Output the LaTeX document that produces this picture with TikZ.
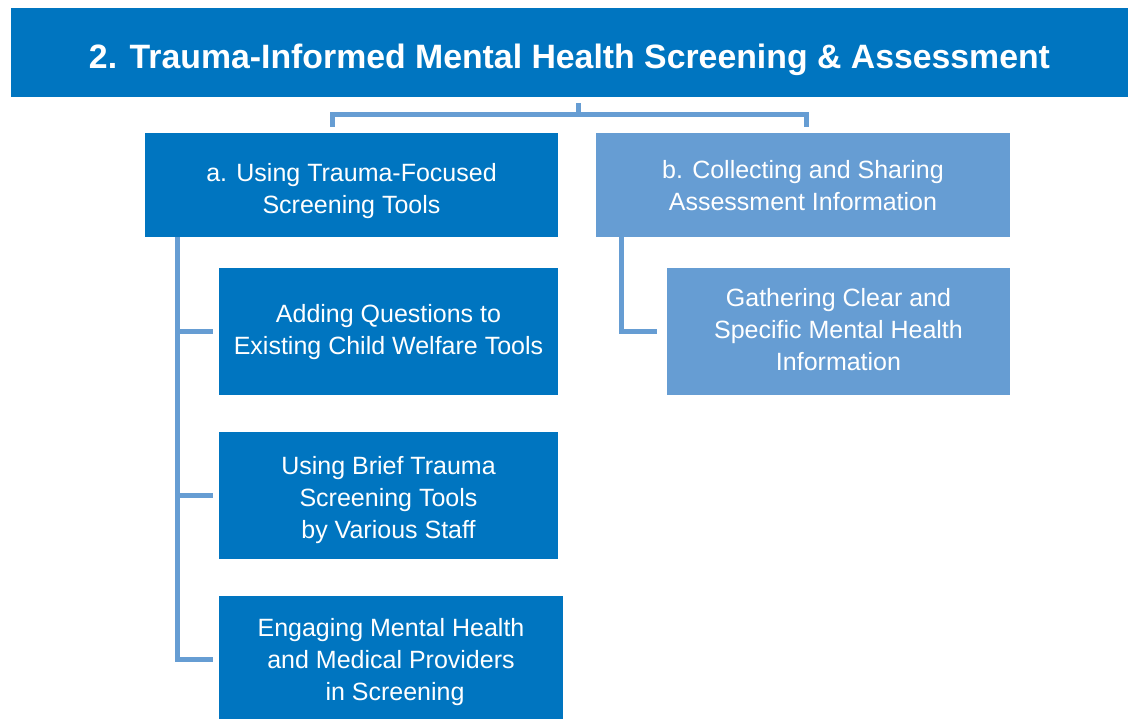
\documentclass[tikz,border=0pt]{standalone}
\usepackage{fontspec}
\setmainfont{Liberation Sans}
\definecolor{dblue}{RGB}{0,117,192}
\definecolor{lblue}{RGB}{102,157,211}
\newcommand{\lowered}[2]{\raisebox{-#1}[\height][\depth]{\begin{tabular}{@{}c@{}}#2\end{tabular}}}
\begin{document}
\begin{tikzpicture}[x=1pt,y=-1pt,
  box/.style={draw=none,inner sep=0pt,align=center,text=white,
    font=\fontsize{25}{32}\selectfont},
  dbox/.style={box,fill=dblue},
  lbox/.style={box,fill=lblue},
  conn/.style={draw=lblue,line width=5pt,line join=miter,line cap=butt}]
\useasboundingbox[fill=white] (0,0) rectangle (1128,719);
\node[dbox,minimum width=1117pt,minimum height=89pt,
  font=\bfseries\fontsize{33.8}{38}\selectfont] (title) at (569.5,52.5)
  {\lowered{8pt}{2. Trauma-Informed Mental Health Screening \& Assessment}};
\node[dbox,minimum width=413pt,minimum height=104pt] (a) at (351.5,185)
  {\lowered{6pt}{a. Using Trauma-Focused\\Screening Tools}};
\node[lbox,minimum width=414pt,minimum height=104pt] (b) at (803,185)
  {\lowered{3.5pt}{b. Collecting and Sharing\\Assessment Information}};
\node[dbox,minimum width=339pt,minimum height=127pt] (l1) at (388.5,331.5)
  {\lowered{0.5pt}{Adding Questions to\\Existing Child Welfare Tools}};
\node[dbox,minimum width=339pt,minimum height=127pt] (l2) at (388.5,495.5)
  {\lowered{5pt}{Using Brief Trauma\\Screening Tools\\by Various Staff}};
\node[dbox,minimum width=344pt,minimum height=126pt] (l3) at (391,659)
  {\lowered{3pt}{Engaging Mental Health\\and Medical Providers\\\hspace*{8pt}in Screening}};
\node[lbox,minimum width=343pt,minimum height=127pt] (r1) at (838.5,331.5)
  {\lowered{1pt}{Gathering Clear and\\Specific Mental Health\\Information}};
% top bracket
\coordinate (hub) at (578,115);
\coordinate (la) at (332,115);
\coordinate (rb) at (806,115);
\draw[conn] ([yshift=-6pt]title.south -| hub) -- (hub);
\draw[conn] ([yshift=6pt]a.north -| la) -- (la) -- (rb) -- ([yshift=6pt]b.north -| rb);
% left spine
\coordinate (ls) at (177,0);
\draw[conn] (a.south -| ls) -- (l3.west -| ls) -- ([xshift=-6pt]l3.west);
\draw[conn] (l1.west -| ls) -- ([xshift=-6pt]l1.west);
\draw[conn] (l2.west -| ls) -- ([xshift=-6pt]l2.west);
% right spine
\coordinate (rs) at (621,0);
\draw[conn] (b.south -| rs) -- (r1.west -| rs) -- ([xshift=-10pt]r1.west);
\end{tikzpicture}
\end{document}
